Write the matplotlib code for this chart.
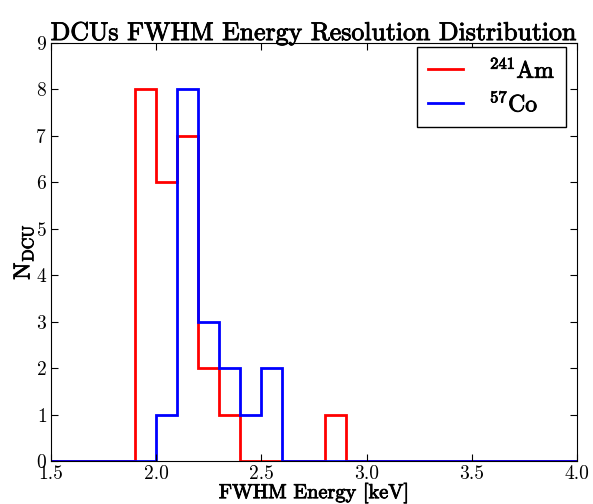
import numpy as np
import matplotlib
matplotlib.use("Agg")
import matplotlib.pyplot as plt
import matplotlib.patheffects as pe

# bin edges [keV] and counts per bin
edges = np.round(np.arange(1.5, 4.05, 0.1), 2)
am241_counts = [0, 0, 0, 0, 8, 6, 7, 2, 1, 0, 0, 0, 0, 1, 0, 0, 0, 0, 0, 0, 0, 0, 0, 0, 0]
co57_counts = [0, 0, 0, 0, 0, 1, 8, 3, 2, 1, 2, 0, 0, 0, 0, 0, 0, 0, 0, 0, 0, 0, 0, 0, 0]
labels = [r'$^{241}$Am', r'$^{57}$Co']

plt.rcParams['font.family'] = 'serif'
plt.rcParams['font.serif'] = ['cmr10', 'DejaVu Serif']
plt.rcParams['mathtext.fontset'] = 'cm'
plt.rcParams['axes.formatter.use_mathtext'] = True
plt.rcParams['axes.unicode_minus'] = False

# slightly heavier strokes for the labels
heavy = [pe.withStroke(linewidth=0.6, foreground='black')]

fig = plt.figure(figsize=(5.93, 5.04), dpi=100)
ax = fig.add_axes([0.086, 0.085, 0.887, 0.830])

ax.stairs(am241_counts, edges, color='red', linewidth=2, label=labels[0])
ax.stairs(co57_counts, edges, color='blue', linewidth=2, label=labels[1])

ax.set_xlim(1.5, 4.0)
ax.set_ylim(0, 9)
ax.set_xticks(np.arange(1.5, 4.01, 0.5))
ax.set_xticklabels([f'{v:.1f}' for v in np.arange(1.5, 4.01, 0.5)])
ax.set_yticks(range(0, 10))
ax.tick_params(direction='in', top=True, right=True, labelsize=14, length=5, pad=3)

ax.set_title('DCUs FWHM Energy Resolution Distribution', fontsize=18.6, pad=2,
             path_effects=heavy)
ax.set_xlabel('FWHM Energy [keV]', fontsize=14.6, labelpad=0, path_effects=heavy)
ax.set_ylabel(r'$\mathrm{N}_{\mathrm{DCU}}$', fontsize=16.5, labelpad=0,
              path_effects=heavy)

leg = ax.legend(loc='upper right', bbox_to_anchor=(566 / 593, 1 - 47 / 504),
                bbox_transform=fig.transFigure, fontsize=17, fancybox=False,
                framealpha=1, edgecolor='black', handlelength=1.5,
                handletextpad=1.1, borderpad=0.45, labelspacing=0.35,
                borderaxespad=0)
leg.get_frame().set_linewidth(1.0)
for t in leg.get_texts():
    t.set_path_effects(heavy)

fig.savefig('out.png', dpi=100)
